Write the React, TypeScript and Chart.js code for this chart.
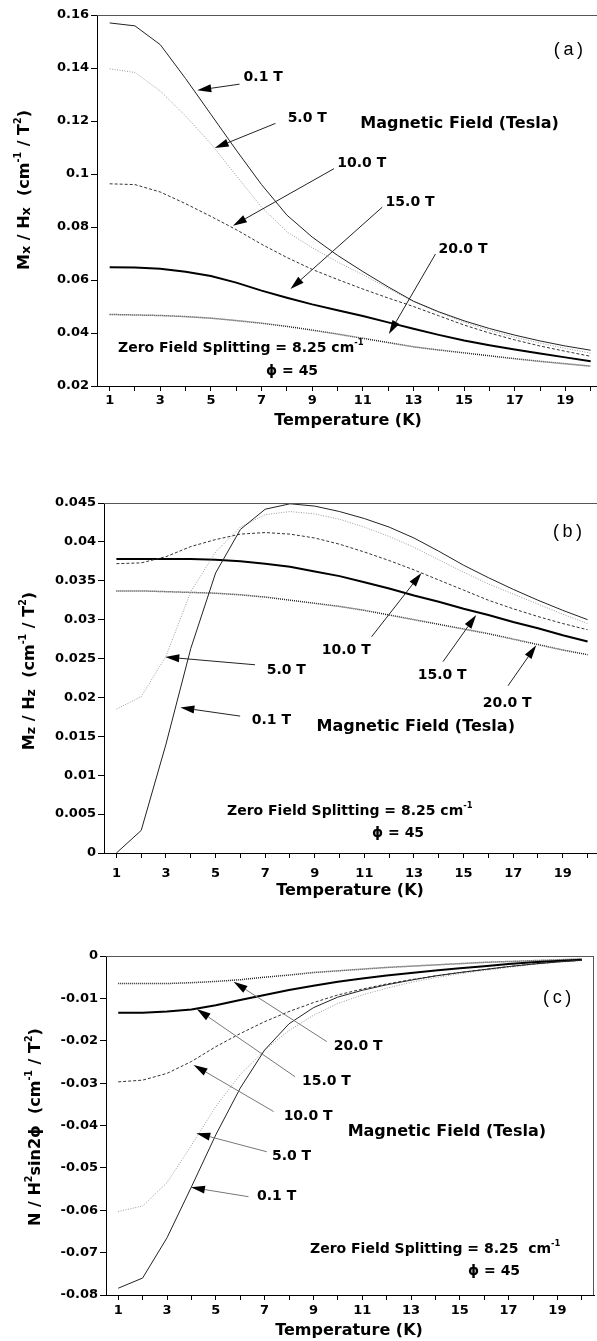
import React, { useEffect, useRef } from 'react';
import { Chart, registerables } from 'chart.js';

Chart.register(...registerables);

// ---------------- data ----------------
const temperatureK = [1, 2, 3, 4, 5, 6, 7, 8, 9, 10, 11, 12, 13, 14, 15, 16, 17, 18, 19, 20];
const fieldLabels = ['0.1 T', '5.0 T', '10.0 T', '15.0 T', '20.0 T'];

// Panel (a): Mx / Hx
const mxTickValues = [0.02, 0.04, 0.06, 0.08, 0.1, 0.12, 0.14, 0.16];
const mxTickLabels = ['0.02', '0.04', '0.06', '0.08', '0.1', '0.12', '0.14', '0.16'];
const mx_0_1T = [0.157, 0.1559, 0.1488, 0.136, 0.1225, 0.109, 0.096, 0.0845, 0.0762, 0.0693, 0.0632, 0.0574, 0.052, 0.048, 0.0446, 0.0417, 0.0392, 0.037, 0.0351, 0.0335];
const mx_5T = [0.1397, 0.1383, 0.1313, 0.1219, 0.1114, 0.0994, 0.0875, 0.0782, 0.0722, 0.0668, 0.062, 0.0569, 0.0518, 0.0478, 0.0441, 0.041, 0.0384, 0.0362, 0.0342, 0.0324];
const mx_10T = [0.0963, 0.096, 0.0932, 0.0888, 0.084, 0.079, 0.0735, 0.0685, 0.064, 0.0602, 0.0566, 0.0532, 0.05, 0.0465, 0.043, 0.04, 0.0374, 0.0351, 0.0331, 0.0312];
const mx_15T = [0.0648, 0.0647, 0.0642, 0.0631, 0.0615, 0.059, 0.056, 0.0533, 0.0508, 0.0486, 0.0464, 0.044, 0.0416, 0.0393, 0.0372, 0.0354, 0.0338, 0.0323, 0.0308, 0.0293];
const mx_20T = [0.047, 0.0468, 0.0466, 0.0462, 0.0456, 0.0447, 0.0437, 0.0425, 0.0411, 0.0396, 0.038, 0.0364, 0.0348, 0.0336, 0.0325, 0.0314, 0.0303, 0.0293, 0.0284, 0.0275];

// Panel (b): Mz / Hz
const mzTickValues = [0, 0.005, 0.01, 0.015, 0.02, 0.025, 0.03, 0.035, 0.04, 0.045];
const mzTickLabels = ['0', '0.005', '0.01', '0.015', '0.02', '0.025', '0.03', '0.035', '0.04', '0.045'];
const mz_0_1T = [0.0, 0.0029, 0.014, 0.0263, 0.036, 0.0416, 0.0442, 0.0449, 0.0446, 0.0439, 0.043, 0.0419, 0.0405, 0.0388, 0.037, 0.0354, 0.0339, 0.0325, 0.0312, 0.03];
const mz_5T = [0.0185, 0.0201, 0.0253, 0.0336, 0.0387, 0.0419, 0.0435, 0.0439, 0.0436, 0.0429, 0.0419, 0.0407, 0.0393, 0.0377, 0.0361, 0.0346, 0.0333, 0.032, 0.0307, 0.0295];
const mz_10T = [0.0372, 0.0373, 0.0381, 0.0394, 0.0403, 0.041, 0.0412, 0.041, 0.0405, 0.0397, 0.0387, 0.0376, 0.0364, 0.0351, 0.0338, 0.0325, 0.0314, 0.0304, 0.0295, 0.0287];
const mz_15T = [0.0378, 0.0378, 0.0378, 0.0378, 0.0377, 0.0375, 0.0372, 0.0368, 0.0362, 0.0356, 0.0348, 0.034, 0.0331, 0.0323, 0.0314, 0.0306, 0.0297, 0.0289, 0.028, 0.0272];
const mz_20T = [0.0337, 0.0337, 0.0336, 0.0335, 0.0334, 0.0332, 0.0329, 0.0325, 0.0321, 0.0317, 0.0312, 0.0306, 0.03, 0.0294, 0.0288, 0.0282, 0.0275, 0.0268, 0.0261, 0.0255];

// Panel (c): N / H^2 sin2phi
const nTickValues = [-0.08, -0.07, -0.06, -0.05, -0.04, -0.03, -0.02, -0.01, 0];
const nTickLabels = ['-0.08', '-0.07', '-0.06', '-0.05', '-0.04', '-0.03', '-0.02', '-0.01', '0'];
const n_0_1T = [-0.0784, -0.076, -0.0665, -0.0545, -0.0422, -0.0312, -0.0222, -0.016, -0.0122, -0.0097, -0.0081, -0.0068, -0.0057, -0.0047, -0.0039, -0.0032, -0.0025, -0.0019, -0.0014, -0.001];
const n_5T = [-0.0603, -0.059, -0.0535, -0.0447, -0.0355, -0.028, -0.0222, -0.0176, -0.014, -0.0112, -0.0092, -0.0076, -0.0062, -0.0051, -0.0042, -0.0034, -0.0027, -0.002, -0.0015, -0.0011];
const n_10T = [-0.0297, -0.0293, -0.0277, -0.0249, -0.0214, -0.0183, -0.0155, -0.0131, -0.011, -0.0092, -0.0078, -0.0066, -0.0056, -0.0047, -0.0039, -0.0032, -0.0025, -0.0019, -0.0014, -0.001];
const n_15T = [-0.0134, -0.0134, -0.0131, -0.0126, -0.0116, -0.0104, -0.0092, -0.008, -0.007, -0.0061, -0.0053, -0.0046, -0.004, -0.0034, -0.0029, -0.0024, -0.0019, -0.0015, -0.0012, -0.0009];
const n_20T = [-0.0065, -0.0065, -0.0065, -0.0063, -0.006, -0.0056, -0.005, -0.0045, -0.0039, -0.0035, -0.0031, -0.0027, -0.0024, -0.0021, -0.0018, -0.0015, -0.0013, -0.0011, -0.0009, -0.0007];

// ---------------- styles ----------------
const FONT = '"DejaVu Sans", "Liberation Sans", sans-serif';
const seriesStyles = [
  { color: '#222', width: 1, dash: [] as number[] },
  { color: '#9a9a9a', width: 1, dash: [1, 1.5] },
  { color: '#333', width: 1, dash: [3, 2] },
  { color: '#000', width: 2, dash: [] as number[] },
  { color: '#222', width: 1.5, dash: [1, 1] },
];

type Seg = { t: string; s?: number; dy?: number };

function drawRich(ctx: CanvasRenderingContext2D, segs: Seg[], x: number, y: number, size: number, align: 'left' | 'center', rotate = false) {
  ctx.save();
  ctx.translate(x, y);
  if (rotate) ctx.rotate(-Math.PI / 2);
  ctx.textAlign = 'left';
  ctx.textBaseline = 'alphabetic';
  ctx.fillStyle = '#000';
  const widths = segs.map((sg) => {
    ctx.font = `bold ${size * (sg.s ?? 1)}px ${FONT}`;
    return ctx.measureText(sg.t).width;
  });
  const total = widths.reduce((a, b) => a + b, 0);
  let cx = align === 'center' ? -total / 2 : 0;
  const base = size * 0.36;
  segs.forEach((sg, i) => {
    ctx.font = `bold ${size * (sg.s ?? 1)}px ${FONT}`;
    ctx.fillText(sg.t, cx, base + (sg.dy ?? 0) * size);
    cx += widths[i];
  });
  ctx.restore();
}

type Arrow = { label: string; from: [number, number]; to: [number, number]; at: [number, number] };

type PanelSpec = {
  top: number;
  height: number;
  yMin: number;
  yMax: number;
  yTicks: number[];
  yLabels: string[];
  xMax: number;
  yAxisWidth: number;
  padTop: number;
  padRight: number;
  xAxisHeight: number;
  xLabelPad: number;
  series: number[][];
  yTitle: Seg[];
  yTitlePos: [number, number];
  xTitlePos: [number, number];
  arrows: Arrow[];
  arrowColor: string;
  fieldTitleAt: [number, number];
  panelLabel: string;
  panelLabelAt: [number, number];
  zfsText: string;
  zfsPos: [number, number];
  phiPos: [number, number];
  rightBorder: boolean;
};

const supSeg = (t: string): Seg => ({ t, s: 0.6, dy: -0.5 });
const subSeg = (t: string): Seg => ({ t, s: 0.8, dy: 0.1 });

const panels: PanelSpec[] = [
  {
    top: 0, height: 440,
    yMin: 0.02, yMax: 0.16, yTicks: mxTickValues, yLabels: mxTickLabels,
    xMax: 20.25, yAxisWidth: 97, padTop: 15, padRight: 0, xAxisHeight: 54, xLabelPad: 2,
    series: [mx_0_1T, mx_5T, mx_10T, mx_15T, mx_20T],
    yTitle: [{ t: 'M' }, subSeg('x'), { t: ' / H' }, subSeg('x'), { t: '  (cm' }, supSeg('-1'), { t: ' / T' }, supSeg('2'), { t: ')' }],
    yTitlePos: [23, 190],
    xTitlePos: [348, 419],
    arrows: [
      { label: fieldLabels[0], from: [6.13, 0.1339], to: [4.46, 0.1316], at: [6.29, 0.1365] },
      { label: fieldLabels[1], from: [7.55, 0.1191], to: [5.15, 0.1098], at: [8.03, 0.121] },
      { label: fieldLabels[2], from: [9.86, 0.102], to: [5.87, 0.0805], at: [9.99, 0.104] },
      { label: fieldLabels[3], from: [11.77, 0.0875], to: [8.14, 0.0566], at: [11.9, 0.0894] },
      { label: fieldLabels[4], from: [13.87, 0.0698], to: [12.03, 0.0396], at: [13.99, 0.0717] },
    ],
    arrowColor: '#222',
    fieldTitleAt: [14.82, 0.1188],
    panelLabel: '(\u2009a\u2009)', panelLabelAt: [19.12, 0.1468],
    zfsText: 'Zero Field Splitting = 8.25 cm', zfsPos: [118, 347], phiPos: [266, 370],
    rightBorder: false,
  },
  {
    top: 440, height: 460,
    yMin: 0, yMax: 0.045, yTicks: mzTickValues, yLabels: mzTickLabels,
    xMax: 20.38, yAxisWidth: 104, padTop: 63, padRight: 0, xAxisHeight: 47, xLabelPad: 8,
    series: [mz_0_1T, mz_5T, mz_10T, mz_15T, mz_20T],
    yTitle: [{ t: 'M' }, subSeg('z'), { t: ' / H' }, subSeg('z'), { t: '  (cm' }, supSeg('-1'), { t: ' / T' }, supSeg('2'), { t: ')' }],
    yTitlePos: [28, 231],
    xTitlePos: [350, 449],
    arrows: [
      { label: fieldLabels[1], from: [6.59, 0.0242], to: [2.97, 0.0252], at: [7.06, 0.0235] },
      { label: fieldLabels[0], from: [5.99, 0.0176], to: [3.58, 0.0187], at: [6.46, 0.0171] },
      { label: fieldLabels[2], from: [11.29, 0.0278], to: [13.3, 0.036], at: [9.28, 0.0261] },
      { label: fieldLabels[3], from: [14.17, 0.0246], to: [15.51, 0.0306], at: [13.15, 0.0229] },
      { label: fieldLabels[4], from: [16.79, 0.0215], to: [17.93, 0.0267], at: [15.77, 0.0192] },
    ],
    arrowColor: '#222',
    fieldTitleAt: [13.07, 0.0162],
    panelLabel: '(\u2009b\u2009)', panelLabelAt: [19.19, 0.0413],
    zfsText: 'Zero Field Splitting = 8.25 cm', zfsPos: [227, 370], phiPos: [372, 392],
    rightBorder: false,
  },
  {
    top: 900, height: 441,
    yMin: -0.08, yMax: 0, yTicks: nTickValues, yLabels: nTickLabels,
    xMax: 20.5, yAxisWidth: 106, padTop: 56, padRight: 3, xAxisHeight: 46, xLabelPad: 3,
    series: [n_0_1T, n_5T, n_10T, n_15T, n_20T],
    yTitle: [{ t: 'N / H' }, supSeg('2'), { t: 'sin2\u03D5  (cm' }, supSeg('-1'), { t: ' / T' }, supSeg('2'), { t: ')' }],
    yTitlePos: [34, 227],
    xTitlePos: [349, 429],
    arrows: [
      { label: fieldLabels[4], from: [9.55, -0.0202], to: [5.73, -0.0061], at: [9.83, -0.0214] },
      { label: fieldLabels[3], from: [8.25, -0.0285], to: [4.22, -0.0125], at: [8.53, -0.0297] },
      { label: fieldLabels[2], from: [7.37, -0.0367], to: [4.09, -0.0257], at: [7.78, -0.0379] },
      { label: fieldLabels[1], from: [7.09, -0.0462], to: [4.2, -0.0418], at: [7.3, -0.0474] },
      { label: fieldLabels[0], from: [6.34, -0.0568], to: [3.98, -0.0546], at: [6.69, -0.0568] },
    ],
    arrowColor: '#777',
    fieldTitleAt: [14.47, -0.0415],
    panelLabel: '(\u2009c\u2009)', panelLabelAt: [18.99, -0.0099],
    zfsText: 'Zero Field Splitting = 8.25  cm', zfsPos: [310, 348], phiPos: [468, 370],
    rightBorder: true,
  },
];

function overlayPlugin(spec: PanelSpec) {
  return {
    id: 'overlay',
    afterDatasetsDraw(chart: any) {
      const { ctx, chartArea: ca, scales } = chart;
      const xs = scales.x;
      const ys = scales.y;
      ctx.save();
      // frame
      ctx.strokeStyle = '#555';
      ctx.lineWidth = 1;
      ctx.setLineDash([]);
      ctx.beginPath();
      ctx.moveTo(ca.left, ca.top + 0.5);
      ctx.lineTo(ca.right, ca.top + 0.5);
      if (spec.rightBorder) {
        ctx.moveTo(ca.right - 0.5, ca.top);
        ctx.lineTo(ca.right - 0.5, ca.bottom);
      }
      ctx.stroke();

      // arrows + labels
      spec.arrows.forEach((a) => {
        const fx = xs.getPixelForValue(a.from[0]);
        const fy = ys.getPixelForValue(a.from[1]);
        const tx = xs.getPixelForValue(a.to[0]);
        const ty = ys.getPixelForValue(a.to[1]);
        const dx = tx - fx;
        const dy = ty - fy;
        const len = Math.hypot(dx, dy) || 1;
        const ux = dx / len;
        const uy = dy / len;
        const L = 14;
        const W = 4;
        const bx = tx - ux * L;
        const by = ty - uy * L;
        ctx.strokeStyle = spec.arrowColor;
        ctx.lineWidth = 1;
        ctx.beginPath();
        ctx.moveTo(fx, fy);
        ctx.lineTo(bx, by);
        ctx.stroke();
        ctx.fillStyle = '#000';
        ctx.beginPath();
        ctx.moveTo(tx, ty);
        ctx.lineTo(bx - uy * W, by + ux * W);
        ctx.lineTo(bx + uy * W, by - ux * W);
        ctx.closePath();
        ctx.fill();
        ctx.font = `bold 14px ${FONT}`;
        ctx.textAlign = 'left';
        ctx.textBaseline = 'middle';
        ctx.fillText(a.label, xs.getPixelForValue(a.at[0]), ys.getPixelForValue(a.at[1]));
      });

      // field title
      ctx.font = `bold 16px ${FONT}`;
      ctx.textAlign = 'center';
      ctx.textBaseline = 'middle';
      ctx.fillStyle = '#000';
      ctx.fillText('Magnetic Field (Tesla)', xs.getPixelForValue(spec.fieldTitleAt[0]), ys.getPixelForValue(spec.fieldTitleAt[1]));

      // panel label
      ctx.font = `18px "Liberation Sans", ${FONT}`;
      ctx.fillText(spec.panelLabel, xs.getPixelForValue(spec.panelLabelAt[0]), ys.getPixelForValue(spec.panelLabelAt[1]));

      // notes
      drawRich(ctx, [{ t: spec.zfsText }, supSeg('-1')], spec.zfsPos[0], spec.zfsPos[1], 14, 'left');
      drawRich(ctx, [{ t: '\u03D5 = 45' }], spec.phiPos[0], spec.phiPos[1], 14, 'left');

      // axis titles
      drawRich(ctx, [{ t: 'Temperature (K)' }], spec.xTitlePos[0], spec.xTitlePos[1], 16, 'center');
      drawRich(ctx, spec.yTitle, spec.yTitlePos[0], spec.yTitlePos[1], 16, 'center', true);
      ctx.restore();
    },
  };
}

function buildChart(canvas: HTMLCanvasElement, spec: PanelSpec) {
  const tickFont = { family: FONT, size: 13, weight: 'bold' as const };
  return new Chart(canvas, {
    type: 'line',
    data: {
      datasets: spec.series.map((vals, i) => ({
        label: fieldLabels[i],
        data: temperatureK.map((t, j) => ({ x: t, y: vals[j] })),
        borderColor: seriesStyles[i].color,
        borderWidth: seriesStyles[i].width,
        borderDash: seriesStyles[i].dash,
        pointRadius: 0,
        tension: 0,
        fill: false,
      })),
    },
    options: {
      animation: false,
      responsive: false,
      maintainAspectRatio: false,
      events: [],
      layout: { padding: { left: 0, top: spec.padTop, right: spec.padRight, bottom: 0 } },
      plugins: { legend: { display: false }, tooltip: { enabled: false } },
      scales: {
        x: {
          type: 'linear',
          min: 0.5,
          max: spec.xMax,
          afterBuildTicks: (s: any) => {
            s.ticks = temperatureK.map((v) => ({ value: v }));
          },
          afterFit: (s: any) => {
            s.height = spec.xAxisHeight;
          },
          ticks: {
            autoSkip: false,
            maxRotation: 0,
            padding: spec.xLabelPad,
            color: '#000',
            font: tickFont,
            callback: (v: any) => (Number(v) % 2 === 1 ? String(v) : ''),
          },
          grid: { drawOnChartArea: false, drawTicks: true, tickLength: 5, color: '#000' },
          border: { display: true, color: '#000', width: 1 },
        },
        y: {
          type: 'linear',
          min: spec.yMin,
          max: spec.yMax,
          afterBuildTicks: (s: any) => {
            s.ticks = spec.yTicks.map((v) => ({ value: v }));
          },
          afterFit: (s: any) => {
            s.width = spec.yAxisWidth;
          },
          ticks: {
            padding: 2,
            color: '#000',
            font: tickFont,
            callback: (v: any) => {
              const idx = spec.yTicks.findIndex((t) => Math.abs(t - Number(v)) < 1e-9);
              return idx >= 0 ? spec.yLabels[idx] : '';
            },
          },
          grid: { drawOnChartArea: false, drawTicks: true, tickLength: 6, color: '#000' },
          border: { display: true, color: '#000', width: 1 },
        },
      },
    },
    plugins: [overlayPlugin(spec)],
  } as any);
}

export default function App() {
  const refs = [useRef<HTMLCanvasElement>(null), useRef<HTMLCanvasElement>(null), useRef<HTMLCanvasElement>(null)];
  useEffect(() => {
    const charts = panels.map((spec, i) => buildChart(refs[i].current as HTMLCanvasElement, spec));
    return () => charts.forEach((c) => c.destroy());
  }, []);
  return (
    <div style={{ position: 'absolute', left: 0, top: 0, width: 597, height: 1341, background: '#fff', overflow: 'hidden' }}>
      {panels.map((p, i) => (
        <canvas
          key={i}
          ref={refs[i]}
          width={597}
          height={p.height}
          style={{ position: 'absolute', left: 0, top: p.top, width: 597, height: p.height, display: 'block' }}
        />
      ))}
    </div>
  );
}
